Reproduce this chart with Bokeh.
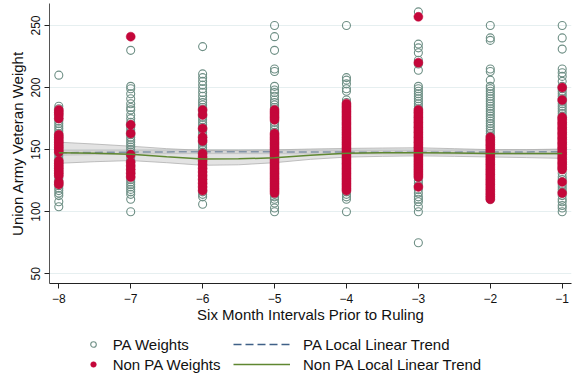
from bokeh.plotting import figure
from bokeh.models import Range1d, FixedTicker, Legend, LegendItem
from bokeh.layouts import column
from bokeh.embed import file_html
from bokeh.resources import INLINE

intervals = [-8, -7, -6, -5, -4, -3, -2, -1]

pa_m8 = [210, 185, 183, 181, 179, 177, 175, 173, 171, 169, 167, 165, 163, 161, 159, 157, 155, 153, 151, 149,
         147, 145, 143, 141, 139, 137, 135, 133, 131, 129, 127, 125, 123, 121, 119, 117, 115, 113, 108, 104]
npa_m8 = [182, 180, 178, 175, 162, 160, 158, 156, 154, 152, 150, 148, 141, 139, 137, 135, 133, 131, 129, 124, 122]

pa_m7 = [230, 201, 199, 195, 191, 187, 184, 182, 178, 175, 172, 170, 168, 166, 164, 162, 160, 158, 156, 154,
         152, 150, 148, 146, 144, 142, 140, 138, 136, 134, 132, 130, 128, 126, 124, 122, 120, 118, 116, 114, 110, 100]
npa_m7 = [241, 170, 163, 146, 140, 137, 134, 131, 128]

pa_m6 = [233, 211, 208, 205, 202, 199, 196, 193, 190, 188, 186, 184, 182, 180, 178, 176, 174, 172, 170, 168,
         166, 164, 162, 160, 158, 156, 154, 152, 150, 148, 146, 144, 142, 140, 138, 136, 134, 132, 130, 128,
         126, 124, 122, 120, 118, 116, 114, 112, 106]
npa_m6 = [182, 178, 167, 160, 157, 147, 144, 141, 138, 135, 132, 129, 126, 123, 120, 117]

pa_m5 = [250, 241, 230, 215, 213, 201, 198, 196, 193, 190, 188, 186, 184, 182, 180, 178, 176, 174, 172, 170,
         168, 166, 164, 162, 160, 158, 156, 154, 152, 150, 148, 146, 144, 142, 140, 138, 136, 134, 132, 130,
         128, 126, 124, 122, 120, 118, 116, 114, 112, 110, 107, 103, 100]
npa_m5 = [182, 180, 178, 176, 174, 163, 161, 159, 157, 155, 153, 151, 149, 147, 145, 143, 141, 139, 137, 135,
          133, 131, 129, 127, 125, 123, 121, 119, 117, 115]

pa_m4 = [250, 208, 206, 203, 199, 197, 190, 188, 186, 184, 182, 180, 178, 176, 174, 172, 170, 168, 166, 164,
         162, 160, 158, 156, 154, 152, 150, 148, 146, 144, 142, 140, 138, 136, 134, 132, 130, 128, 126, 124,
         122, 120, 118, 116, 114, 112, 110, 100]
npa_m4 = [187, 185, 183, 181, 179, 177, 175, 173, 171, 169, 167, 165, 163, 161, 159, 157, 155, 153, 151, 149,
          147, 145, 143, 141, 139, 137, 135, 133, 131, 129, 127, 125, 123, 121, 119, 117]

pa_m3 = [261, 235, 232, 228, 222, 219, 214, 201, 199, 197, 195, 193, 191, 189, 187, 185, 183, 180, 176, 172,
         168, 164, 160, 156, 152, 148, 144, 140, 136, 132, 128, 125, 123, 121, 118, 115, 112, 110, 108, 104,
         100, 75]
npa_m3 = [257, 220, 182, 180, 178, 176, 174, 172, 170, 168, 166, 164, 162, 160, 158, 156, 154, 152, 150, 148,
          146, 144, 142, 140, 138, 136, 134, 132, 130, 128, 120]

pa_m2 = [250, 240, 238, 215, 213, 206, 201, 199, 197, 195, 193, 191, 189, 187, 185, 183, 181, 179, 177, 175,
         173, 171, 169, 167, 165, 163, 161, 158, 154, 150, 146, 142, 138, 134, 130, 126, 122, 118, 114, 112, 110]
npa_m2 = [160, 158, 156, 154, 152, 150, 148, 146, 144, 142, 140, 138, 136, 134, 132, 130, 128, 126, 124, 122,
          120, 118, 116, 114, 112, 110]

pa_m1 = [250, 240, 231, 215, 212, 209, 205, 201, 199, 197, 195, 193, 191, 189, 187, 185, 183, 181, 179, 177,
         175, 171, 167, 163, 159, 155, 151, 147, 143, 139, 135, 131, 128, 126, 122, 120, 118, 116, 113, 110,
         108, 105, 103, 100]
npa_m1 = [200, 190, 176, 174, 172, 170, 168, 166, 164, 162, 160, 158, 156, 154, 152, 150, 148, 146, 144, 142,
          140, 138, 136, 134, 124, 115]

pa_weights = [pa_m8, pa_m7, pa_m6, pa_m5, pa_m4, pa_m3, pa_m2, pa_m1]
npa_weights = [npa_m8, npa_m7, npa_m6, npa_m5, npa_m4, npa_m3, npa_m2, npa_m1]

trend_x = [-8, -7.5, -7, -6.5, -6, -5.5, -5, -4.5, -4, -3.5, -3, -2.5, -2, -1.5, -1]
pa_trend = [147.5, 147.8, 148.0, 148.2, 148.3, 148.3, 148.2, 148.1, 148.0, 148.0, 148.0, 148.0, 148.1, 148.2, 148.3]
pa_lo = [145.5, 146.0, 146.5, 146.7, 146.8, 146.8, 146.7, 146.6, 146.5, 146.5, 146.5, 146.4, 146.3, 146.2, 146.0]
pa_hi = [149.5, 149.6, 149.6, 149.7, 149.8, 149.8, 149.7, 149.6, 149.5, 149.5, 149.5, 149.6, 149.8, 150.0, 150.5]
npa_trend = [147.6, 147.2, 146.2, 144.2, 142.4, 142.6, 143.4, 145.5, 147.2, 147.6, 147.6, 147.3, 147.0, 146.9, 146.8]
npa_lo = [139.0, 140.3, 141.2, 139.5, 137.4, 137.8, 139.5, 142.2, 144.0, 144.6, 145.0, 144.6, 144.1, 143.6, 143.0]
npa_hi = [156.0, 154.5, 152.8, 150.8, 149.4, 149.4, 149.8, 150.5, 151.0, 151.3, 151.5, 150.8, 150.0, 149.9, 150.0]

y_ticks = [50, 100, 150, 200, 250]

FONT = "Liberation Sans"
PA_COL = "#6e8f85"
NPA_COL = "#c4073a"
DASH_COL = "#3f6087"
GREEN_COL = "#5f8731"
NAN = float("nan")

p = figure(width=580, height=330, output_backend="svg", toolbar_location=None,
           x_range=Range1d(-8.1293, -0.8707), y_range=Range1d(42.19, 267.72),
           min_border_left=49, min_border_right=9, min_border_top=3, min_border_bottom=47)
p.outline_line_color = None
p.background_fill_color = "white"
p.border_fill_color = "white"

# grid
p.xgrid.grid_line_color = None
p.ygrid.grid_line_color = "#e6eff0"
p.ygrid.grid_line_width = 1
p.ygrid.ticker = FixedTicker(ticks=y_ticks)

# axes
p.xaxis.ticker = FixedTicker(ticks=intervals)
p.yaxis.ticker = FixedTicker(ticks=y_ticks)
p.xaxis.axis_label = "Six Month Intervals Prior to Ruling"
p.yaxis.axis_label = "Union Army Veteran Weight"
for ax in (p.xaxis, p.yaxis):
    ax.axis_label_text_font = FONT
    ax.axis_label_text_font_size = "15px"
    ax.axis_label_text_font_style = "normal"
    ax.axis_label_text_color = "#111111"
    ax.major_label_text_font = FONT
    ax.major_label_text_font_size = "12px"
    ax.major_label_text_color = "#111111"
    ax.minor_tick_line_color = None
    ax.major_tick_out = 5
    ax.major_tick_in = 0
    ax.axis_line_color = "#222222"
    ax.major_tick_line_color = "#222222"
p.yaxis.axis_line_color = "#555555"
p.yaxis.major_label_orientation = "vertical"
p.xaxis.major_label_standoff = 5
p.xaxis.axis_label_standoff = 0
p.yaxis.major_label_standoff = 4
p.yaxis.axis_label_standoff = 3

# confidence bands
p.varea(x=trend_x, y1=pa_lo, y2=pa_hi, fill_color="#c8c8c8", fill_alpha=0.55)
p.line(trend_x, pa_lo, line_color="#b5b5b5", line_width=0.8)
p.line(trend_x, pa_hi, line_color="#b5b5b5", line_width=0.8)
p.line(trend_x, pa_trend, line_color=DASH_COL, line_width=1.5, line_dash="8 4")
p.varea(x=trend_x, y1=npa_lo, y2=npa_hi, fill_color="#c8c8c8", fill_alpha=0.5)
p.line(trend_x, npa_lo, line_color="#b0b0b0", line_width=0.8)
p.line(trend_x, npa_hi, line_color="#b0b0b0", line_width=0.8)

# scatter points
pa_x, pa_y = [], []
for iv, vals in zip(intervals, pa_weights):
    pa_x += [iv] * len(vals)
    pa_y += vals
npa_x, npa_y = [], []
for iv, vals in zip(intervals, npa_weights):
    npa_x += [iv] * len(vals)
    npa_y += vals

p.scatter(pa_x, pa_y, marker="circle", size=8, fill_color=None, line_color=PA_COL, line_width=1.1)
p.scatter(npa_x, npa_y, marker="circle", size=9, fill_color=NPA_COL, line_color=NPA_COL, line_width=0.5)
p.line(trend_x, npa_trend, line_color=GREEN_COL, line_width=1.5)

# legend strip below the chart (its frame is aligned with the chart's frame)
q = figure(width=580, height=49, output_backend="svg", toolbar_location=None,
           x_axis_location=None, y_axis_location=None,
           x_range=Range1d(0, 1), y_range=Range1d(0, 1),
           min_border_left=0, min_border_right=0, min_border_top=0, min_border_bottom=0)
q.outline_line_color = None
q.grid.visible = False
q.background_fill_color = "white"
q.border_fill_color = "white"

# legend-only renderers (NaN data: nothing is drawn in the strip itself)
g_pa = q.scatter(x=[NAN], y=[NAN], marker="circle", fill_color=None, line_color=PA_COL, line_width=1.1)
g_npa = q.scatter(x=[NAN], y=[NAN], marker="circle", fill_color=NPA_COL, line_color=NPA_COL, line_width=0.5)
g_pal = q.line(x=[NAN, NAN], y=[NAN, NAN], line_color=DASH_COL, line_width=1.5, line_dash="8 4")
g_npal = q.line(x=[NAN, NAN], y=[NAN, NAN], line_color=GREEN_COL, line_width=1.5)

common = dict(label_text_font=FONT, label_text_font_size="15px", label_text_color="#111111",
              glyph_height=20, label_height=20, spacing=0, padding=0, margin=0,
              border_line_color=None, background_fill_alpha=0)
leg1 = Legend(items=[LegendItem(label="PA Weights", renderers=[g_pa]),
                     LegendItem(label="Non PA Weights", renderers=[g_npa])],
              location=(36.7, 4.7), glyph_width=14, label_standoff=13, **common)
leg2 = Legend(items=[LegendItem(label="PA Local Linear Trend", renderers=[g_pal]),
                     LegendItem(label="Non PA Local Linear Trend", renderers=[g_npal])],
              location=(184, 4.7), glyph_width=57, label_standoff=13, **common)
q.add_layout(leg1)
q.add_layout(leg2)

layout = column(p, q, spacing=0)
open("out.html", "w").write(file_html(layout, INLINE))
